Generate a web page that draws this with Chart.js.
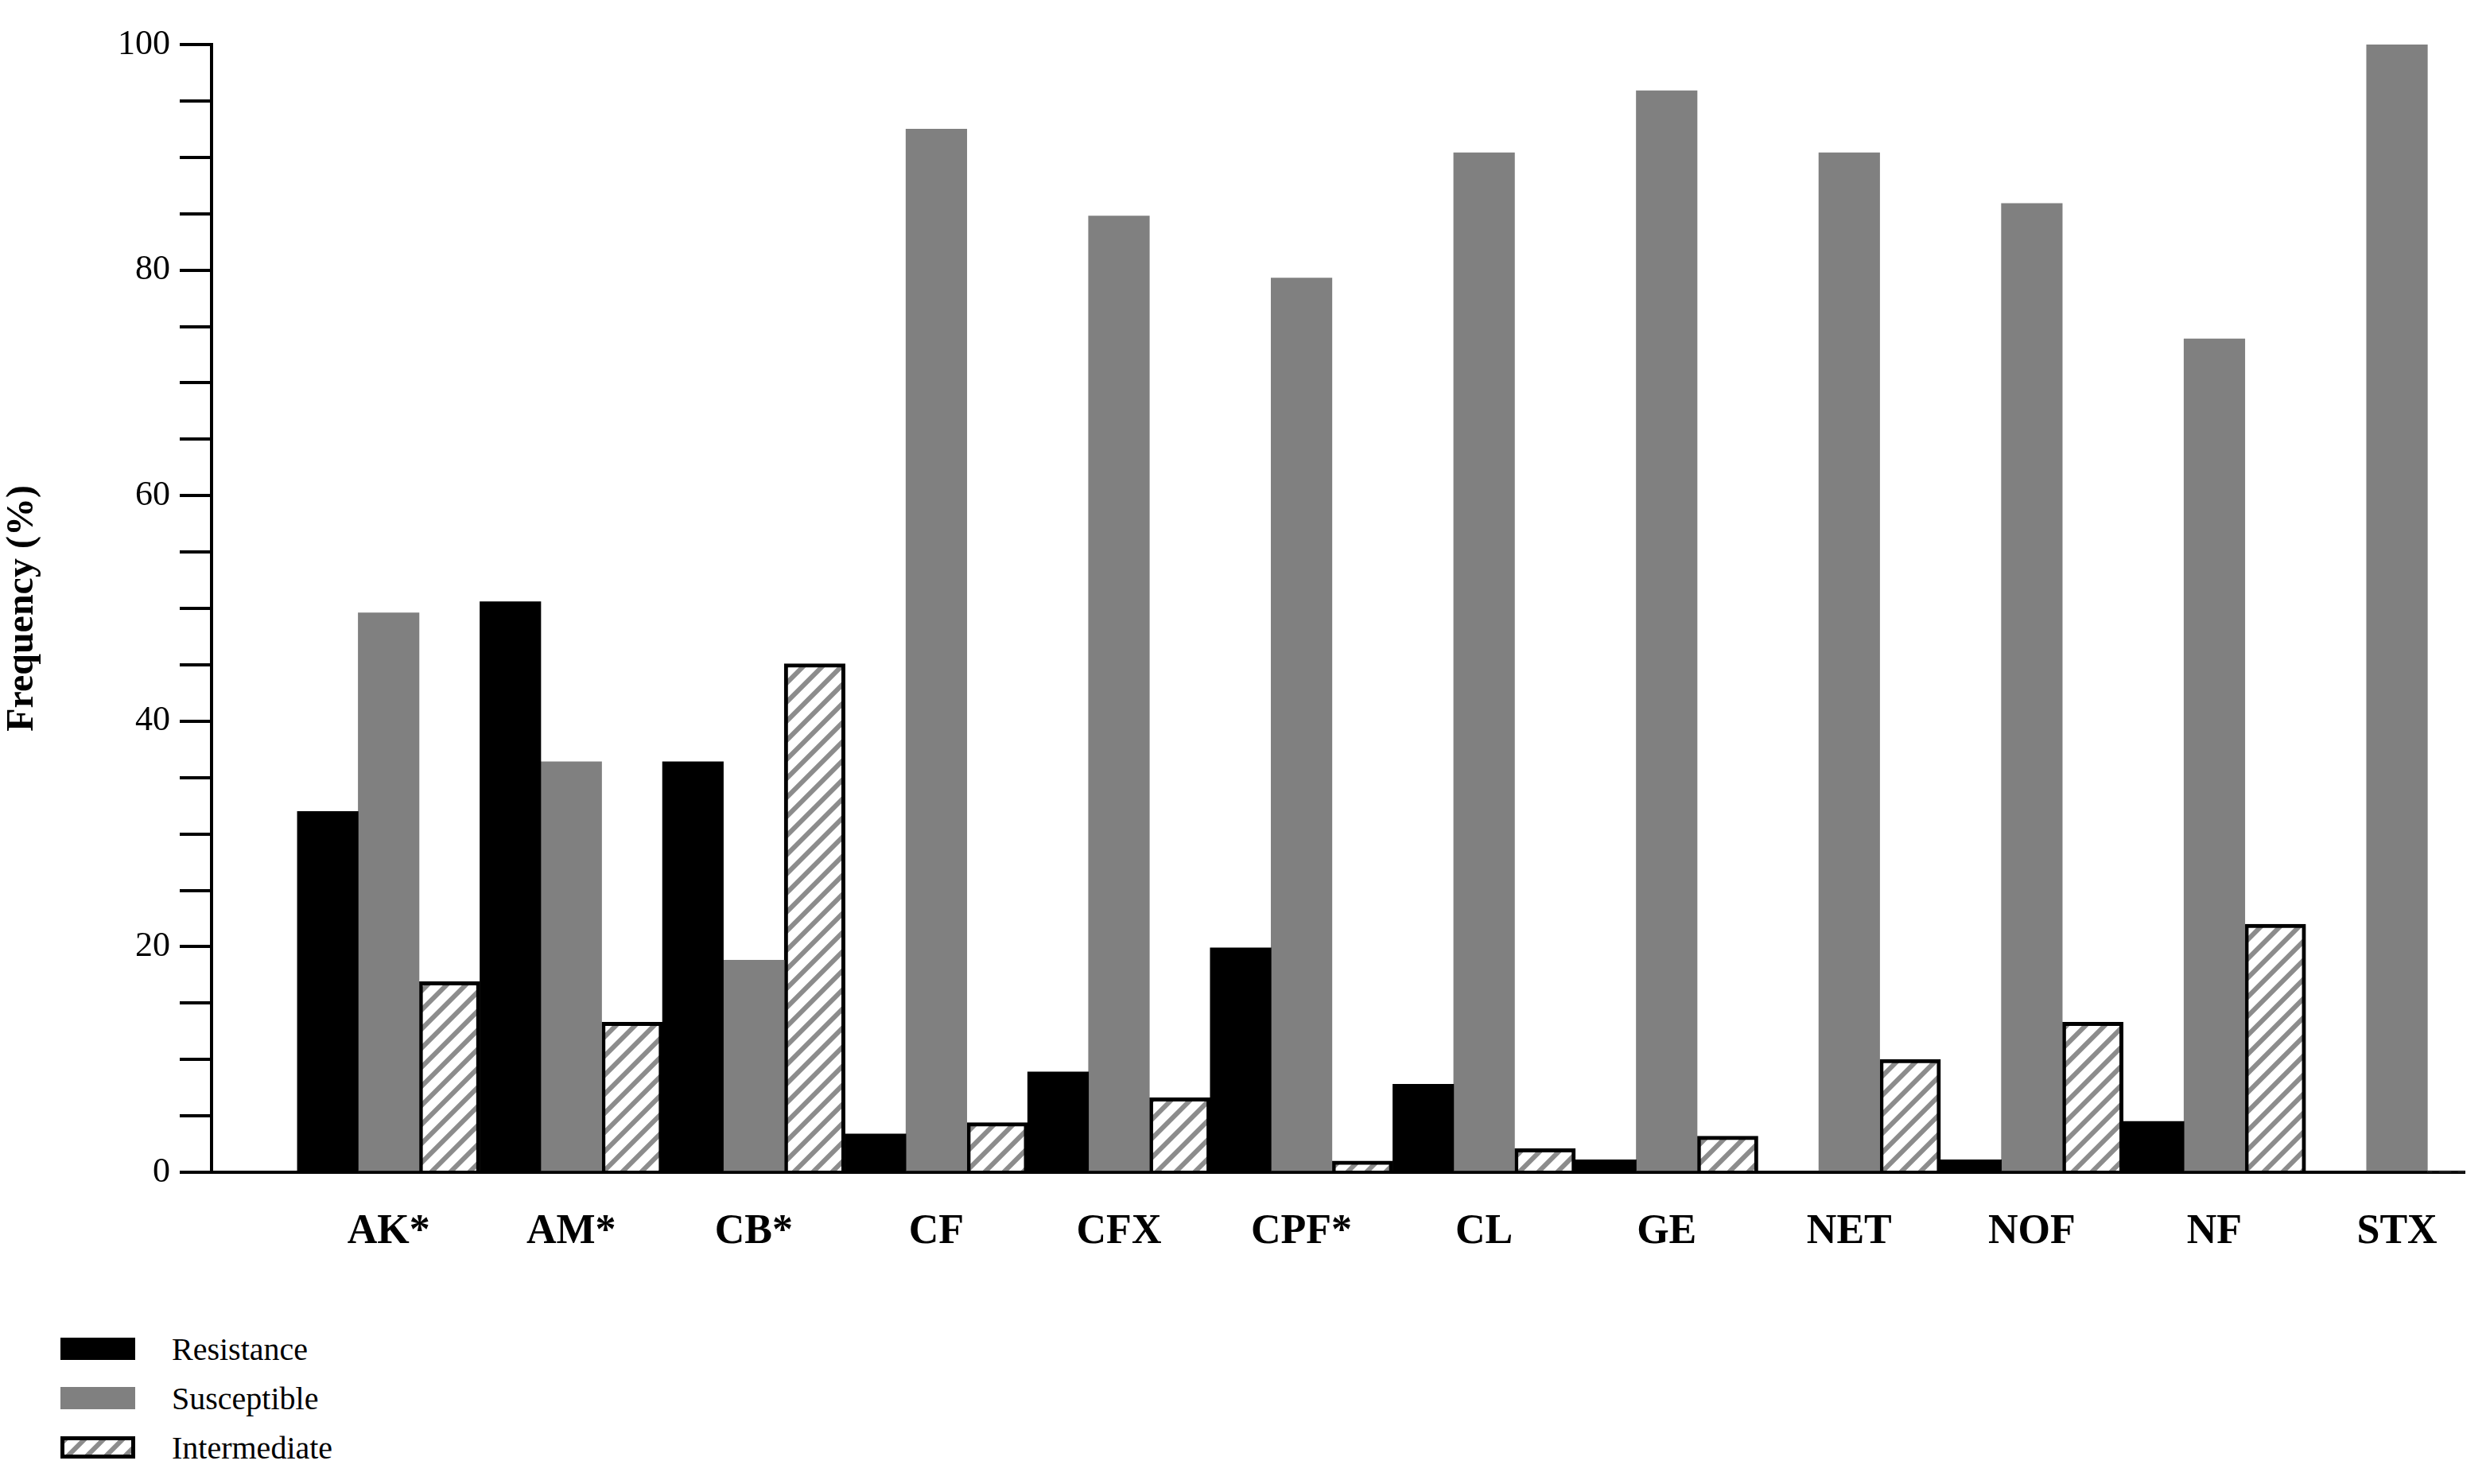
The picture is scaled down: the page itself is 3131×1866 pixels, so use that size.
<!DOCTYPE html>
<html>
<head>
<meta charset="utf-8">
<script src="https://cdn.jsdelivr.net/npm/chart.js@4/dist/chart.umd.min.js"></script>
<style>
    body { margin: 0; background: #fff; }
    #wrap { position: relative; width: 3131px; height: 1866px; }
    #box { position: absolute; left: 0; top: 0; width: 3131px; height: 1600px; }
    .legend { position: absolute; left: 76px; font-family: "Liberation Serif", serif; font-size: 40px; }
    .legend div { position: relative; height: 62px; }
    .legend span.sw { position: absolute; left: 0; top: 10px; width: 94px; height: 28px; box-sizing: border-box; }
    .legend span.tx { position: absolute; left: 140px; top: 0; line-height: 50px; }
</style>
</head>
<body>
<div id="wrap">
    <div id="box"><canvas id="chart"></canvas></div>
    <div class="legend" style="top:1672px">
        <div><span class="sw" style="background:#000"></span><span class="tx">Resistance</span></div>
        <div><span class="sw" style="background:#808080"></span><span class="tx">Susceptible</span></div>
        <div><span class="sw" id="hatchSw" style="border:5px solid #000"></span><span class="tx">Intermediate</span></div>
    </div>
</div>
<script>
const categories = ["AK*", "AM*", "CB*", "CF", "CFX", "CPF*", "CL", "GE", "NET", "NOF", "NF", "STX"];
const resistance = [32.0, 50.6, 36.4, 3.4, 8.9, 19.9, 7.8, 1.1, 0, 1.1, 4.5, 0];
const susceptible = [49.6, 36.4, 18.8, 92.5, 84.8, 79.3, 90.4, 95.9, 90.4, 85.9, 73.9, 100];
const intermediate = [16.9, 13.3, 45.1, 4.4, 6.6, 1.0, 2.1, 3.2, 10.0, 13.3, 22.0, 0];
const yTicks = [0, 20, 40, 60, 80, 100];

// Diagonal hatch fill
function makeHatch() {
    const c = document.createElement("canvas");
    c.width = 24; c.height = 24;
    const g = c.getContext("2d");
    g.fillStyle = "#fff";
    g.fillRect(0, 0, 24, 24);
    g.strokeStyle = "#8c8c8c";
    g.lineWidth = 6;
    g.beginPath();
    g.moveTo(-6, 30); g.lineTo(30, -6);
    g.moveTo(-18, 18); g.lineTo(18, -18);
    g.moveTo(6, 42); g.lineTo(42, 6);
    g.stroke();
    return c;
}
const hatchCanvas = makeHatch();
document.getElementById("hatchSw").style.background = "url(" + hatchCanvas.toDataURL() + ")";
const hatch = document.getElementById("chart").getContext("2d").createPattern(hatchCanvas, "repeat");

function toPoints(values) {
    return values.map((v, i) => ({ x: i + 1, y: v }));
}

const serif = "'Liberation Serif', 'Times New Roman', serif";

new Chart(document.getElementById("chart"), {
    type: "bar",
    data: {
        datasets: [
            { label: "Resistance", data: toPoints(resistance), backgroundColor: "#000" },
            { label: "Susceptible", data: toPoints(susceptible), backgroundColor: "#808080" },
            {
                label: "Intermediate",
                data: toPoints(intermediate),
                backgroundColor: hatch,
                borderColor: "#000",
                borderWidth: (ctx) => (ctx.raw && ctx.raw.y > 0 ? 5 : 0),
            },
        ],
    },
    options: {
        responsive: true,
        maintainAspectRatio: false,
        devicePixelRatio: 1,
        animation: false,
        layout: { padding: { top: 56, right: 32, left: 0, bottom: 0 } },
        datasets: { bar: { categoryPercentage: 1, barPercentage: 1 } },
        plugins: { legend: { display: false }, tooltip: { enabled: false } },
        scales: {
            x: {
                type: "linear",
                offset: false,
                min: 0.03,
                max: 12.37,
                afterBuildTicks: (s) => { s.ticks = categories.map((c, i) => ({ value: i + 1 })); },
                afterFit: (s) => { s.height = 126; },
                ticks: {
                    callback: (v) => categories[v - 1] || "",
                    font: { family: serif, size: 52, weight: "bold" },
                    color: "#000",
                    padding: 36,
                    autoSkip: false,
                    maxRotation: 0,
                },
                grid: { display: false, offset: false },
                border: { display: true, color: "#000", width: 4 },
            },
            y: {
                min: 0,
                max: 100,
                afterFit: (s) => { s.width = 266; },
                ticks: {
                    stepSize: 5,
                    callback: (v) => (yTicks.includes(v) ? v : ""),
                    font: { family: serif, size: 44 },
                    color: "#000",
                    padding: 12,
                },
                grid: { drawOnChartArea: false, color: "#000", lineWidth: 4, tickLength: 40 },
                border: { display: true, color: "#000", width: 4 },
                title: {
                    display: true,
                    text: "Frequency (%)",
                    font: { family: serif, size: 48, weight: "bold" },
                    color: "#000",
                    padding: 0,
                },
            },
        },
    },
});
</script>
</body>
</html>
